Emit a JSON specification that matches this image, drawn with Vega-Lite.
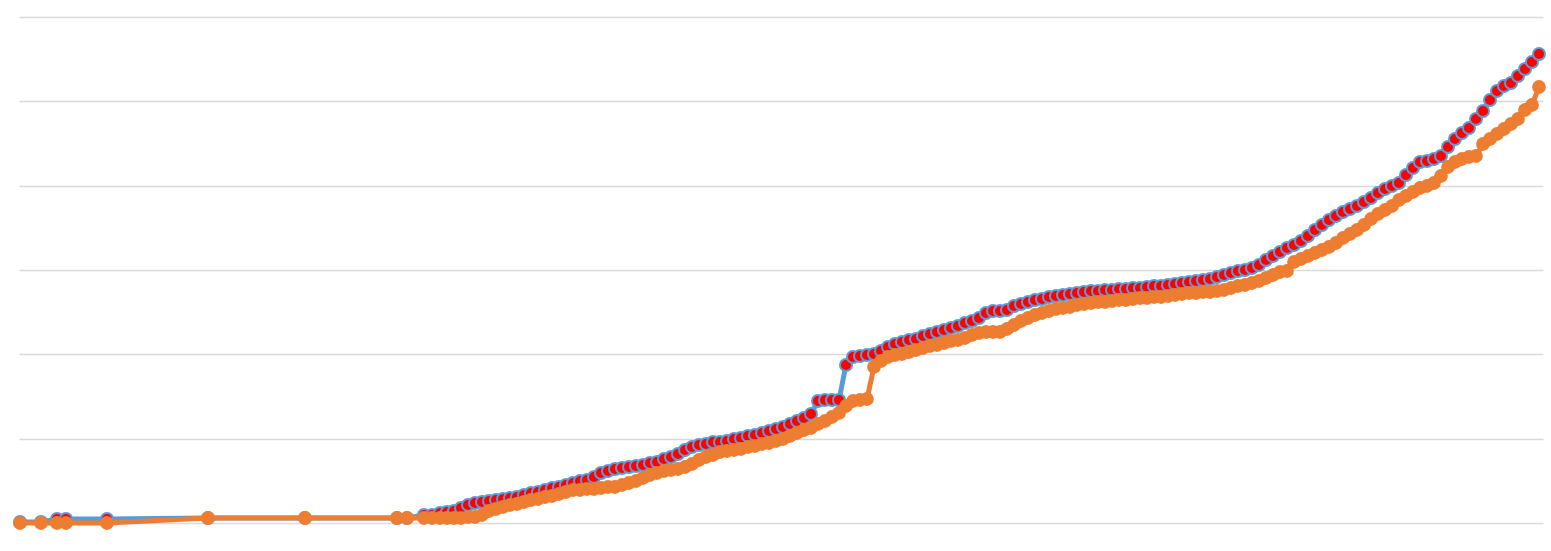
{
  "$schema": "https://vega.github.io/schema/vega-lite/v6.json",
  "autosize": {"type": "none"},
  "width": 1524,
  "height": 506,
  "padding": {"left": 19, "top": 17, "right": 8, "bottom": 28},
  "background": "white",
  "data": {"values": [
    {"x":20,"b":1,"o":0},{"x":41,"b":1,"o":0},{"x":57,"b":4,"o":0},{"x":66,"b":4,"o":0},{"x":107,"b":4,"o":0},
    {"x":208,"b":5,"o":5},{"x":305,"b":5,"o":5},{"x":397,"b":5,"o":5},{"x":407,"b":5,"o":5},{"x":424,"b":8,"o":5},{"x":432,"b":8,"o":5},
    {"x":440,"b":10,"o":5},{"x":447,"b":11,"o":5},{"x":454,"b":12,"o":5},{"x":461,"b":15,"o":5},{"x":468,"b":18,"o":6},
    {"x":475,"b":20,"o":6},{"x":482,"b":21,"o":8},{"x":489,"b":22,"o":12},{"x":496,"b":23,"o":14},{"x":503,"b":24,"o":16},
    {"x":510,"b":25,"o":18},{"x":517,"b":26,"o":19},{"x":524,"b":28,"o":21},{"x":531,"b":30,"o":23},{"x":538,"b":31,"o":24},
    {"x":545,"b":33,"o":26},{"x":552,"b":35,"o":27},{"x":559,"b":36,"o":29},{"x":566,"b":38,"o":31},{"x":573,"b":40,"o":33},
    {"x":580,"b":42,"o":33},{"x":587,"b":43,"o":34},{"x":594,"b":46,"o":34},{"x":601,"b":50,"o":35},{"x":608,"b":52,"o":36},
    {"x":615,"b":54,"o":36},{"x":622,"b":55,"o":38},{"x":629,"b":56,"o":40},{"x":636,"b":57,"o":42},{"x":643,"b":58,"o":45},
    {"x":650,"b":60,"o":48},{"x":657,"b":61,"o":50},{"x":664,"b":64,"o":52},{"x":671,"b":66,"o":53},{"x":678,"b":69,"o":54},
    {"x":685,"b":73,"o":56},{"x":692,"b":76,"o":59},{"x":699,"b":78,"o":63},{"x":706,"b":79,"o":66},{"x":713,"b":81,"o":68},
    {"x":720,"b":81,"o":71},{"x":727,"b":82,"o":72},{"x":734,"b":84,"o":73},{"x":741,"b":85,"o":74},{"x":748,"b":87,"o":76},
    {"x":755,"b":88,"o":77},{"x":762,"b":90,"o":79},{"x":769,"b":92,"o":80},{"x":776,"b":94,"o":82},{"x":783,"b":96,"o":84},
    {"x":790,"b":99,"o":87},{"x":797,"b":102,"o":90},{"x":804,"b":105,"o":93},{"x":811,"b":109,"o":95},{"x":818,"b":122,"o":99},
    {"x":825,"b":123,"o":102},{"x":832,"b":123,"o":106},{"x":839,"b":123,"o":110},{"x":846,"b":158,"o":117},{"x":853,"b":166,"o":122},
    {"x":860,"b":167,"o":123},{"x":867,"b":168,"o":124},{"x":874,"b":169,"o":156},{"x":881,"b":172,"o":162},{"x":888,"b":176,"o":166},
    {"x":895,"b":179,"o":168},{"x":902,"b":181,"o":169},{"x":909,"b":183,"o":171},{"x":916,"b":184,"o":173},{"x":923,"b":187,"o":175},
    {"x":930,"b":189,"o":177},{"x":937,"b":191,"o":178},{"x":944,"b":193,"o":180},{"x":951,"b":195,"o":182},{"x":958,"b":197,"o":183},
    {"x":965,"b":200,"o":185},{"x":972,"b":202,"o":188},{"x":979,"b":205,"o":190},{"x":986,"b":210,"o":191},{"x":993,"b":212,"o":191},
    {"x":1000,"b":212,"o":191},{"x":1007,"b":213,"o":194},{"x":1014,"b":217,"o":198},{"x":1021,"b":219,"o":202},{"x":1028,"b":221,"o":205},
    {"x":1035,"b":223,"o":208},{"x":1042,"b":224,"o":210},{"x":1049,"b":226,"o":212},{"x":1056,"b":227,"o":214},{"x":1063,"b":228,"o":215},
    {"x":1070,"b":229,"o":216},{"x":1077,"b":230,"o":218},{"x":1084,"b":231,"o":219},{"x":1091,"b":232,"o":220},{"x":1098,"b":232,"o":221},
    {"x":1105,"b":233,"o":221},{"x":1112,"b":233,"o":222},{"x":1119,"b":234,"o":223},{"x":1126,"b":234,"o":223},{"x":1133,"b":235,"o":224},
    {"x":1140,"b":235,"o":225},{"x":1147,"b":236,"o":225},{"x":1154,"b":237,"o":226},{"x":1161,"b":237,"o":226},{"x":1168,"b":238,"o":227},
    {"x":1175,"b":239,"o":228},{"x":1182,"b":240,"o":229},{"x":1189,"b":241,"o":230},{"x":1196,"b":242,"o":230},{"x":1203,"b":243,"o":231},
    {"x":1210,"b":244,"o":231},{"x":1217,"b":246,"o":232},{"x":1224,"b":248,"o":233},{"x":1231,"b":250,"o":235},{"x":1238,"b":252,"o":237},
    {"x":1245,"b":253,"o":238},{"x":1252,"b":255,"o":240},{"x":1259,"b":258,"o":242},{"x":1266,"b":263,"o":245},{"x":1273,"b":267,"o":248},
    {"x":1280,"b":271,"o":251},{"x":1287,"b":275,"o":252},{"x":1294,"b":278,"o":261},{"x":1301,"b":282,"o":264},{"x":1308,"b":287,"o":267},
    {"x":1315,"b":293,"o":270},{"x":1322,"b":298,"o":273},{"x":1329,"b":303,"o":276},{"x":1336,"b":307,"o":280},{"x":1343,"b":311,"o":285},
    {"x":1350,"b":314,"o":289},{"x":1357,"b":317,"o":293},{"x":1364,"b":321,"o":298},{"x":1371,"b":325,"o":304},{"x":1378,"b":330,"o":309},
    {"x":1385,"b":334,"o":313},{"x":1392,"b":337,"o":317},{"x":1399,"b":340,"o":323},{"x":1406,"b":348,"o":327},{"x":1413,"b":355,"o":331},
    {"x":1420,"b":361,"o":335},{"x":1427,"b":362,"o":337},{"x":1434,"b":364,"o":340},{"x":1441,"b":367,"o":347},{"x":1448,"b":376,"o":356},
    {"x":1455,"b":384,"o":361},{"x":1462,"b":390,"o":364},{"x":1469,"b":395,"o":366},{"x":1476,"b":404,"o":367},{"x":1483,"b":412,"o":379},
    {"x":1490,"b":423,"o":384},{"x":1497,"b":432,"o":389},{"x":1504,"b":437,"o":394},{"x":1511,"b":440,"o":399},{"x":1518,"b":447,"o":404},
    {"x":1525,"b":454,"o":413},{"x":1532,"b":461,"o":418},{"x":1539,"b":469,"o":436}
  ]},
  "encoding": {
    "x": {"field": "x", "type": "quantitative", "scale": {"domain": [19, 1543], "nice": false, "zero": false}, "axis": null}
  },
  "layer": [
    {
      "mark": {"type": "line", "color": "#5b9bd5", "strokeWidth": 5},
      "encoding": {"y": {"field": "b", "type": "quantitative",
        "scale": {"domain": [0, 506], "nice": false},
        "axis": {"values": [0, 84.33, 168.67, 253, 337.33, 421.67, 506], "grid": true, "gridColor": "#d9d9d9", "gridWidth": 1.5, "labels": false, "ticks": false, "domain": false, "title": null}}}
    },
    {
      "mark": {"type": "point", "shape": "circle", "filled": true, "fill": "#ff0000", "stroke": "#5b9bd5", "strokeWidth": 2, "size": 144, "opacity": 1},
      "encoding": {"y": {"field": "b", "type": "quantitative"}}
    },
    {
      "mark": {"type": "line", "color": "#ed7d31", "strokeWidth": 5},
      "encoding": {"y": {"field": "o", "type": "quantitative"}}
    },
    {
      "mark": {"type": "point", "shape": "circle", "filled": true, "fill": "#ed7d31", "strokeWidth": 0, "size": 190, "opacity": 1},
      "encoding": {"y": {"field": "o", "type": "quantitative"}}
    }
  ],
  "resolve": {"scale": {"y": "shared"}},
  "config": {"view": {"stroke": null}}
}
